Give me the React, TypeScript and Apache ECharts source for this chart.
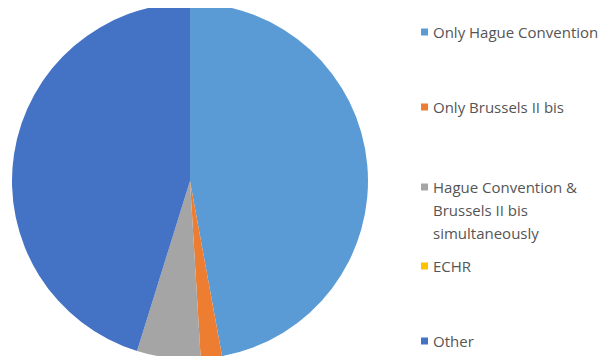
import React, { useEffect, useRef } from "react";
import * as echarts from "echarts";

const categories = [
  "Only Hague Convention",
  "Only Brussels II bis",
  "Hague Convention & Brussels II bis simultaneously",
  "ECHR",
  "Other",
];
const values = [49, 2, 6, 0, 47];
const colors = ["#5B9BD5", "#ED7D31", "#A5A5A5", "#FFC000", "#4472C4"];
const legendLabels = [
  "Only Hague Convention",
  "Only Brussels II bis",
  "Hague Convention &\nBrussels II bis\nsimultaneously",
  "ECHR",
  "Other",
];

export default function App() {
  const ref = useRef<HTMLDivElement>(null);
  useEffect(() => {
    if (!ref.current) return;
    const chart = echarts.init(ref.current, undefined, { renderer: "svg" });
    const lineH = 23;
    const legendCenters = [32, 107, 187, 266, 341];
    const legends = categories.map((c, i) => {
      const lines = legendLabels[i].split("\n");
      // pad with empty lines before so that the first line sits beside the icon
      const padded = Array(lines.length - 1).fill("").concat(lines);
      const boxH = padded.length * lineH;
      return {
        data: [c],
        orient: "vertical",
        left: 421,
        top: legendCenters[i] - boxH / 2,
        padding: 0,
        icon: "rect",
        itemWidth: 7,
        itemHeight: 7,
        itemGap: 0,
        selectedMode: false,
        formatter: () => padded.join("\n"),
        textStyle: {
          fontFamily: "Open Sans",
          fontSize: 15,
          color: "#555555",
          lineHeight: lineH,
        },
      };
    });
    chart.setOption({
      animation: false,
      color: colors,
      legend: legends,
      series: [
        {
          type: "pie",
          center: [190, 181],
          radius: 178,
          startAngle: 90,
          clockwise: true,
          avoidLabelOverlap: false,
          label: { show: false },
          labelLine: { show: false },
          emphasis: { disabled: true },
          itemStyle: { borderWidth: 0 },
          data: categories.map((c, i) => ({ name: c, value: values[i] })),
        },
      ],
    });
    return () => chart.dispose();
  }, []);
  return <div ref={ref} style={{ width: 613, height: 364, margin: -8 }} />;
}
